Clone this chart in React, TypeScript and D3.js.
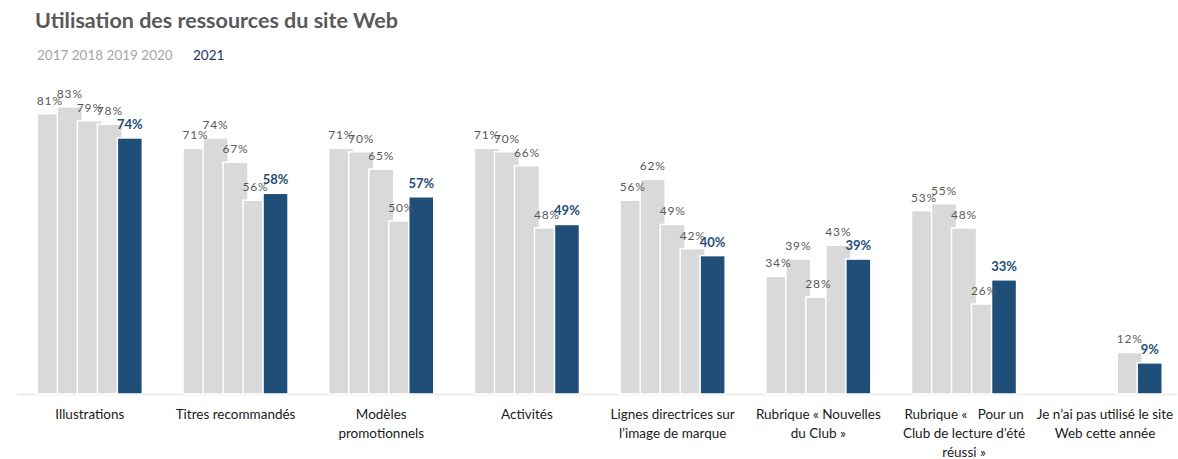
import React from "react";
import * as d3 from "d3";

const categories = [
  "Illustrations",
  "Titres recommandés",
  "Modèles promotionnels",
  "Activités",
  "Lignes directrices sur l’image de marque",
  "Rubrique « Nouvelles du Club »",
  "Rubrique « Pour un Club de lecture d’été réussi »",
  "Je n’ai pas utilisé le site Web cette année",
];
const categoryLines = [
  ["Illustrations"],
  ["Titres recommandés"],
  ["Modèles", "promotionnels"],
  ["Activités"],
  ["Lignes directrices sur", "l’image de marque"],
  ["Rubrique « Nouvelles", "du Club »"],
  ["Rubrique «   Pour un", "Club de lecture d’été", "réussi »"],
  ["Je n’ai pas utilisé le site", "Web cette année"],
];
const years = ["2017", "2018", "2019", "2020", "2021"];
const v2017 = [81, 71, 71, 71, 56, 34, 53, null];
const v2018 = [83, 74, 70, 70, 62, 39, 55, null];
const v2019 = [79, 67, 65, 66, 49, 28, 48, null];
const v2020 = [78, 56, 50, 48, 42, 43, 26, 12];
const v2021 = [74, 58, 57, 49, 40, 39, 33, 9];
const seriesValues = [v2017, v2018, v2019, v2020, v2021];

const W = 1178;
const H = 459;
const GRAY = "#D9D9D9";
const BLUE = "#1F4E79";
const FONT = "Lato, 'Noto Sans', sans-serif";

export default function App() {
  const x = d3.scaleBand<string>().domain(categories).range([17, 1182.6]).padding(0);
  const sub = d3.scaleBand<string>().domain(years).range([-50, 50]).padding(0);
  const y = d3.scaleLinear().domain([0, 100]).range([394, 48]);
  const barW = 25;

  const center = (c: string) => (x(c) as number) + x.bandwidth() / 2;
  const barCx = (c: string, yr: string) => center(c) + (sub(yr) as number) + sub.bandwidth() / 2;

  return (
    <svg width={W} height={H} style={{ position: "absolute", left: 0, top: 0, background: "#fff" }}>
      <text x={35} y={28} fontFamily={FONT} fontWeight={700} fontSize={21.5} fill="#595959">
        Utilisation des ressources du site Web
      </text>
      <text x={37} y={60} fontFamily={FONT} fontSize={13.5} fill="#A6A6A6">
        {years.slice(0, 4).join(" ")}
      </text>
      <text x={193} y={60} fontFamily={FONT} fontSize={13.5} fill="#203864">
        {years[4]}
      </text>

      <line x1={17} x2={1177} y1={394.5} y2={394.5} stroke="#EDEDED" strokeWidth={2} />

      {seriesValues.map((vals, si) => (
        <g key={years[si]}>
          {categories.map((c, ci) => {
            const v = vals[ci];
            if (v == null) return null;
            const cx = barCx(c, years[si]);
            return (
              <rect
                key={c}
                x={cx - barW / 2}
                y={y(v)}
                width={barW}
                height={y(0) - y(v)}
                fill={si === 4 ? BLUE : GRAY}
                stroke="#fff"
                strokeWidth={1.5}
              />
            );
          })}
        </g>
      ))}

      {seriesValues.map((vals, si) => (
        <g key={"l" + years[si]}>
          {categories.map((c, ci) => {
            const v = vals[ci];
            if (v == null) return null;
            const cx = barCx(c, years[si]);
            const last = si === 4;
            return (
              <text
                key={c}
                x={cx}
                y={y(v) - 9}
                textAnchor="middle"
                fontFamily={FONT}
                fontSize={last ? 13 : 12}
                fontWeight={last ? 700 : 400}
                letterSpacing={last ? 0 : 0.8}
                fill={last ? BLUE : "#595959"}
              >
                {v + "%"}
              </text>
            );
          })}
        </g>
      ))}

      {categories.map((c, ci) => (
        <text key={c} textAnchor="middle" fontFamily={FONT} fontSize={13.5} fill="#1a1a1a" style={{ whiteSpace: "pre" }}>
          {categoryLines[ci].map((ln, li) => (
            <tspan key={li} x={Math.min(center(c), 1105)} y={419 + li * 19}>
              {ln}
            </tspan>
          ))}
        </text>
      ))}
    </svg>
  );
}
